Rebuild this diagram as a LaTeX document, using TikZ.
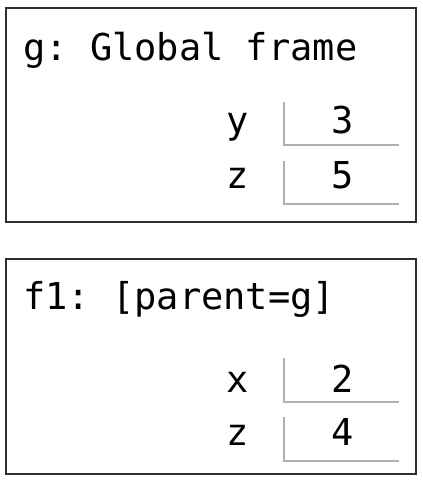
\documentclass[tikz,border=0pt]{standalone}
\usepackage{fontspec}
\setmonofont{DejaVu Sans Mono}
\definecolor{cellgray}{RGB}{165,178,184}
\definecolor{framegray}{RGB}{45,45,45}
\begin{document}
\begin{tikzpicture}[x=1pt,y=-1pt,
  framebox/.style={draw=framegray,line width=1.3pt},
  cellline/.style={draw=cellgray,line width=1.1pt},
  txt/.style={font=\fontsize{37}{40}\selectfont\ttfamily,inner sep=0pt,text=black},
  title/.style={txt,anchor=base west},
  varname/.style={txt,anchor=base east},
  varval/.style={txt,anchor=base}]
\useasboundingbox (0,0) rectangle (423,480);
% frame g
\draw[framebox] (6,8) rectangle (416,222);
\node[title] (gt) at (23,60) {g: Global frame};
\coordinate (gy1) at (284,102); \coordinate (gy2) at (284,145); \coordinate (gy3) at (399,145);
\draw[cellline] (gy1) -- (gy2) -- (gy3);
\coordinate (gz1) at (284,161); \coordinate (gz2) at (284,204); \coordinate (gz3) at (399,204);
\draw[cellline] (gz1) -- (gz2) -- (gz3);
\node[varname] (gyn) at (249,133) {y};
\node[varval] (gyv) at (343,133) {3};
\node[varname] (gzn) at (249,188) {z};
\node[varval] (gzv) at (343,188) {5};
% frame f1
\draw[framebox] (6,259) rectangle (416,474);
\node[title] (ft) at (23,309) {f1: [parent=g]};
\coordinate (fx1) at (284,358); \coordinate (fx2) at (284,402); \coordinate (fx3) at (399,402);
\draw[cellline] (fx1) -- (fx2) -- (fx3);
\coordinate (fz1) at (284,417); \coordinate (fz2) at (284,461); \coordinate (fz3) at (399,461);
\draw[cellline] (fz1) -- (fz2) -- (fz3);
\node[varname] (fxn) at (249,392) {x};
\node[varval] (fxv) at (343,392) {2};
\node[varname] (fzn) at (249,445) {z};
\node[varval] (fzv) at (343,445) {4};
\end{tikzpicture}
\end{document}
